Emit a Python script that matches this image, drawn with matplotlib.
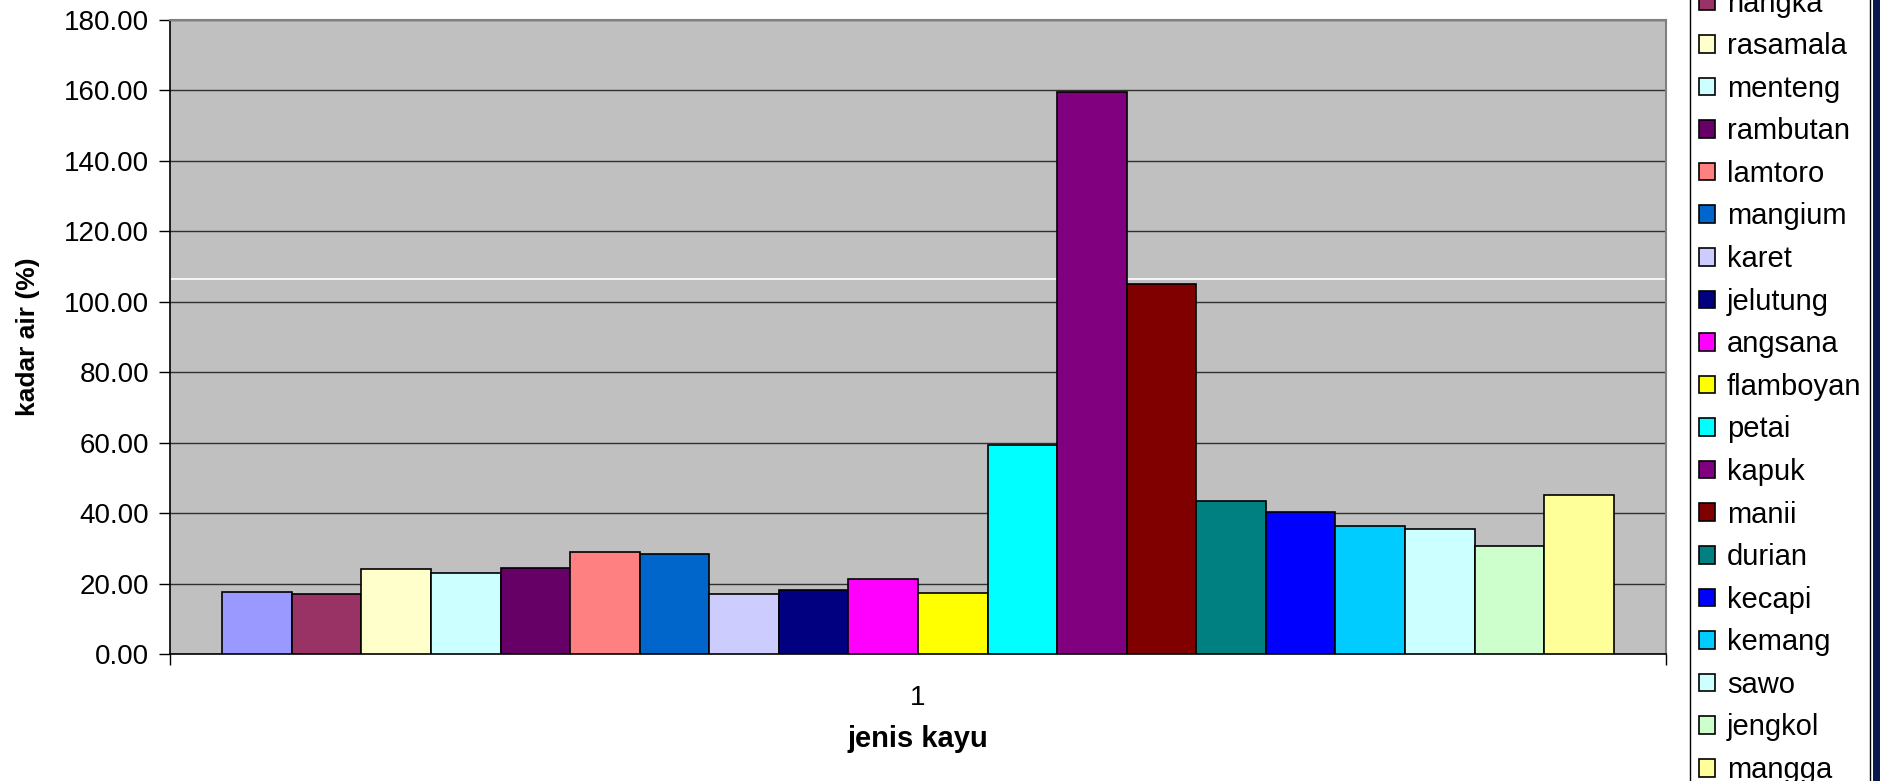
import matplotlib.pyplot as plt
from matplotlib.patches import Rectangle

# ===================================================================
# DATA
# ===================================================================
jenis = ["sengon", "nangka", "rasamala", "menteng", "rambutan", "lamtoro",
         "mangium", "karet", "jelutung", "angsana", "flamboyan", "petai",
         "kapuk", "manii", "durian", "kecapi", "kemang", "sawo", "jengkol",
         "mangga"]
kadar_air = [17.5, 16.9, 24.0, 22.9, 24.5, 29.0, 28.5, 16.9, 18.1, 21.3,
             17.4, 59.4, 159.6, 105.0, 43.3, 40.2, 36.2, 35.6, 30.7, 45.1]
warna = ["#9999FF", "#993366", "#FFFFCC", "#CCFFFF", "#660066", "#FF8080",
         "#0066CC", "#CCCCFF", "#000080", "#FF00FF", "#FFFF00", "#00FFFF",
         "#800080", "#800000", "#008080", "#0000FF", "#00CCFF", "#CCFFFF",
         "#CCFFCC", "#FFFF99"]
y_ticks = [0, 20, 40, 60, 80, 100, 120, 140, 160, 180]
kategori = ["1"]

plt.rcParams['font.family'] = ['Liberation Sans', 'DejaVu Sans']

W, H = 1881, 781
fig = plt.figure(figsize=(W / 100, H / 100), dpi=100)
ax = fig.add_axes([170 / W, (H - 654) / H, 1496 / W, 634 / H])
ax.set_facecolor("#C0C0C0")

# ===================================================================
# BARRAS
# ===================================================================
n = len(jenis)
group = 0.93
bw = group / n
for i, (lab, val, col) in enumerate(zip(jenis, kadar_air, warna)):
    x = -group / 2 + bw * (i + 0.5)
    ax.bar(x, val, width=bw, color=col, edgecolor="black", linewidth=1.2,
           label=lab, zorder=3)

# linea blanca de la imagen original
ax.axhline(106.5, color="white", linewidth=1.2, zorder=2)

ax.set_xlim(-0.5, 0.5)
ax.set_ylim(0, 180)
ax.set_yticks(y_ticks)
ax.set_yticklabels([f"{v:.2f}" for v in y_ticks], fontsize=20)
ax.yaxis.grid(True, color="#303030", linewidth=1.0, zorder=1)
ax.set_axisbelow(True)

ax.set_xticks([-0.5, 0.5])
ax.set_xticklabels(["", ""])
ax.set_xticks([0], minor=True)
ax.set_xticklabels(kategori, minor=True, fontsize=20)
ax.tick_params(axis="x", which="minor", length=0, pad=22)
ax.tick_params(axis="x", which="major", length=8, width=1, color="black")
ax.tick_params(axis="y", length=8, width=1, pad=7, color="black")

for side in ["top", "right"]:
    ax.spines[side].set_color("#808080")
    ax.spines[side].set_linewidth(1.5)
for side in ["left", "bottom"]:
    ax.spines[side].set_color("black")
    ax.spines[side].set_linewidth(1.2)

ax.set_xlabel("jenis kayu", fontsize=21, fontweight="bold")
ax.xaxis.set_label_coords(0.5, -0.112)
ax.set_ylabel("kadar air (%)", fontsize=19, fontweight="bold")
ax.yaxis.set_label_coords(-0.087, 0.5)

leg = fig.legend(loc="center left", bbox_to_anchor=(1690 / W, (H - 365.5) / H),
                 bbox_transform=fig.transFigure, fontsize=21, frameon=True,
                 fancybox=False, edgecolor="black", framealpha=1,
                 handlelength=0.55, handleheight=0.55, handletextpad=0.42,
                 labelspacing=0.50, borderpad=0.3, borderaxespad=0)
leg.get_frame().set_linewidth(1.0)

# borde oscuro a la derecha
fig.add_artist(Rectangle((1873 / W, 0), 8 / W, 1, transform=fig.transFigure,
                         facecolor="#0A1850", edgecolor="none"))

fig.savefig("out.png", dpi=100)
